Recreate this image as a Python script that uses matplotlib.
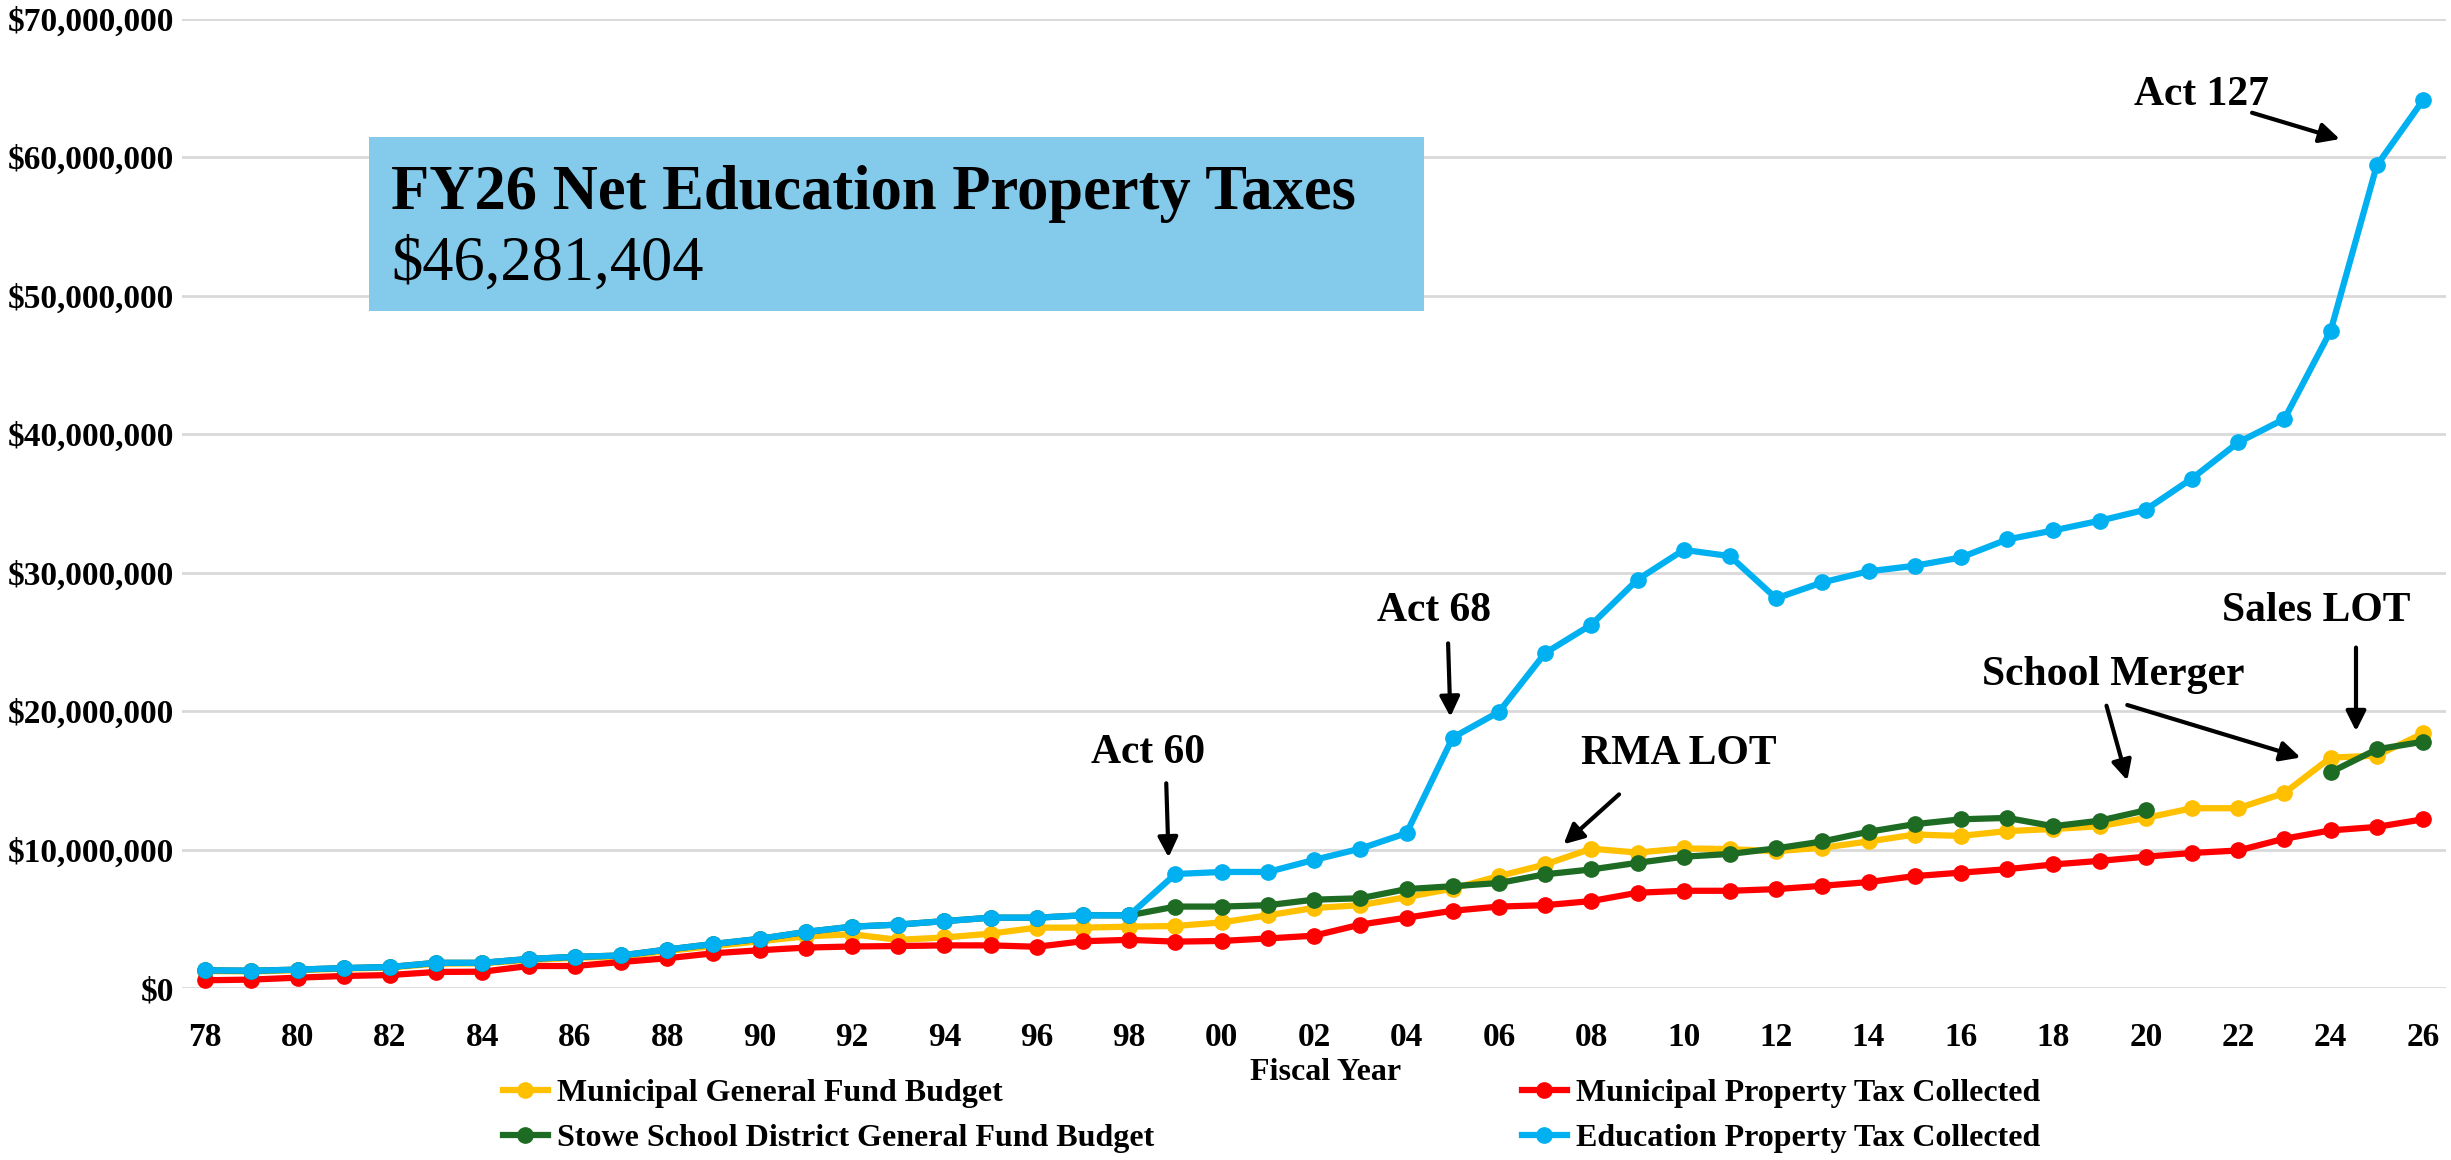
import numpy as np
import matplotlib
matplotlib.use('Agg')
import matplotlib.pyplot as plt
from matplotlib.patches import Rectangle
from matplotlib.ticker import FuncFormatter

plt.rcParams['font.family'] = ['Liberation Serif', 'DejaVu Serif']
plt.rcParams['font.weight'] = 'bold'

years = list(range(1978, 2027))

# values in millions of dollars
muni_budget = [1.25, 1.22, 1.30, 1.42, 1.50, 1.78, 1.80, 2.05, 2.20, 2.30,
               2.70, 3.05, 3.40, 3.75, 3.90, 3.50, 3.67, 3.95, 4.38, 4.38,
               4.45, 4.50, 4.76, 5.27, 5.80, 6.00, 6.58, 7.20, 8.10, 8.94,
               10.08, 9.80, 10.10, 10.05, 9.90, 10.15, 10.60, 11.10, 11.00, 11.35,
               11.50, 11.70, 12.30, 13.00, 13.00, 14.10, 16.65, 16.80, 18.40]
muni_tax = [0.58, 0.63, 0.77, 0.89, 0.96, 1.18, 1.20, 1.61, 1.61, 1.90,
            2.17, 2.53, 2.75, 2.94, 3.02, 3.05, 3.10, 3.10, 3.00, 3.40,
            3.50, 3.37, 3.42, 3.60, 3.80, 4.60, 5.10, 5.60, 5.90, 6.00,
            6.30, 6.90, 7.04, 7.04, 7.16, 7.40, 7.67, 8.10, 8.35, 8.60,
            8.94, 9.20, 9.50, 9.77, 9.95, 10.80, 11.40, 11.65, 12.20]
school_budget = [1.30, 1.27, 1.35, 1.46, 1.54, 1.84, 1.84, 2.12, 2.27, 2.37,
                 2.80, 3.20, 3.57, 4.07, 4.45, 4.60, 4.85, 5.10, 5.10, 5.27,
                 5.27, 5.90, 5.90, 6.00, 6.40, 6.50, 7.16, 7.37, 7.60, 8.23,
                 8.58, 9.06, 9.50, 9.70, 10.10, 10.60, 11.30, 11.85, 12.20, 12.30,
                 11.70, 12.10, 12.85, np.nan, np.nan, np.nan, 15.60, 17.25, 17.80]
edu_tax = [1.30, 1.27, 1.35, 1.46, 1.54, 1.84, 1.84, 2.12, 2.27, 2.37,
           2.80, 3.20, 3.57, 4.07, 4.45, 4.60, 4.85, 5.10, 5.10, 5.27,
           5.27, 8.25, 8.40, 8.40, 9.27, 10.08, 11.20, 18.10, 19.95, 24.20,
           26.25, 29.50, 31.65, 31.20, 28.15, 29.30, 30.10, 30.50, 31.10, 32.40,
           33.05, 33.75, 34.55, 36.80, 39.40, 41.10, 47.45, 59.40, 64.10]

labels = ['Municipal General Fund Budget', 'Municipal Property Tax Collected',
          'Stowe School District General Fund Budget', 'Education Property Tax Collected']
colors = ['#FFC000', '#FF0000', '#1E6B24', '#00B0F0']

# (text, text x, text y, [(arrow start x, y, arrow end x, y)])  y in millions
notes = [
    ('Act 60', 1998.4, 17.0, [(1998.8, 14.8, 1998.85, 9.45)]),
    ('Act 68', 2004.6, 27.2, [(2004.9, 24.9, 2004.95, 19.6)]),
    ('RMA LOT', 2009.9, 16.9, [(2008.6, 14.0, 2007.4, 10.4)]),
    ('School Merger', 2019.3, 22.6, [(2019.15, 20.4, 2019.6, 15.0),
                                     (2019.6, 20.45, 2023.35, 16.66)]),
    ('Sales LOT', 2023.7, 27.2, [(2024.55, 24.6, 2024.55, 18.56)]),
    ('Act 127', 2021.2, 64.5, [(2022.3, 63.2, 2024.2, 61.3)]),
]

fig = plt.figure(figsize=(24.51, 11.6), dpi=100)
ax = fig.add_axes([0.0743, 0.148, 0.9237, 0.836])

series = [muni_budget, muni_tax, school_budget, edu_tax]
handles = []
for vals, lab, col, z in zip(series, labels, colors, [3, 4, 5, 6]):
    h, = ax.plot(years, np.array(vals) * 1e6, color=col, lw=4.5, marker='o',
                 markersize=11, label=lab, zorder=z)
    handles.append(h)

ax.set_xlim(1977.5, 2026.5)
ax.set_ylim(0, 70e6)
ax.set_yticks(np.arange(0, 70e6 + 1, 10e6))
ax.yaxis.set_major_formatter(FuncFormatter(lambda v, p: '${:,.0f}'.format(v)))
ax.set_xticks(years[::2])
ax.set_xticklabels(['%02d' % (y % 100) for y in years[::2]])
ax.tick_params(axis='both', length=0, labelsize=24)
ax.tick_params(axis='x', pad=24)
ax.tick_params(axis='y', pad=6)
ax.grid(axis='y', color='#D9D9D9', lw=2)
ax.set_axisbelow(True)
for s in ax.spines.values():
    s.set_visible(False)

for txt, tx, ty, arrows in notes:
    ax.text(tx, ty * 1e6, txt, fontsize=30, ha='center', va='center', zorder=8)
    for x0, y0, x1, y1 in arrows:
        ax.annotate('', xy=(x1, y1 * 1e6), xytext=(x0, y0 * 1e6),
                    arrowprops=dict(arrowstyle='-|>', lw=3, color='black',
                                    mutation_scale=30, shrinkA=0, shrinkB=0),
                    zorder=8)

# headline box
fig.patches.append(Rectangle((0.1506, 0.7319), 0.4304, 0.15, transform=fig.transFigure,
                             facecolor='#84CBEB', edgecolor='none', zorder=1))
fig.text(0.1595, 0.833, 'FY26 Net Education Property Taxes', fontsize=45,
         fontweight='bold', va='center', ha='left', zorder=3)
fig.text(0.1595, 0.772, '$46,281,404', fontsize=45, fontweight='normal',
         va='center', ha='left', zorder=3)

fig.text(0.541, 1 - 1072 / 1160, 'Fiscal Year', fontsize=23, ha='center', va='center')

order = [0, 2, 1, 3]
fig.legend([handles[i] for i in order], [labels[i] for i in order],
           loc='upper left', bbox_to_anchor=(0.2, 1 - 1066 / 1160), ncol=2,
           frameon=False, fontsize=23, handlelength=1.4, handletextpad=0.3,
           columnspacing=11.5, labelspacing=0.5, borderaxespad=0)

fig.savefig('out.png', dpi=100)
